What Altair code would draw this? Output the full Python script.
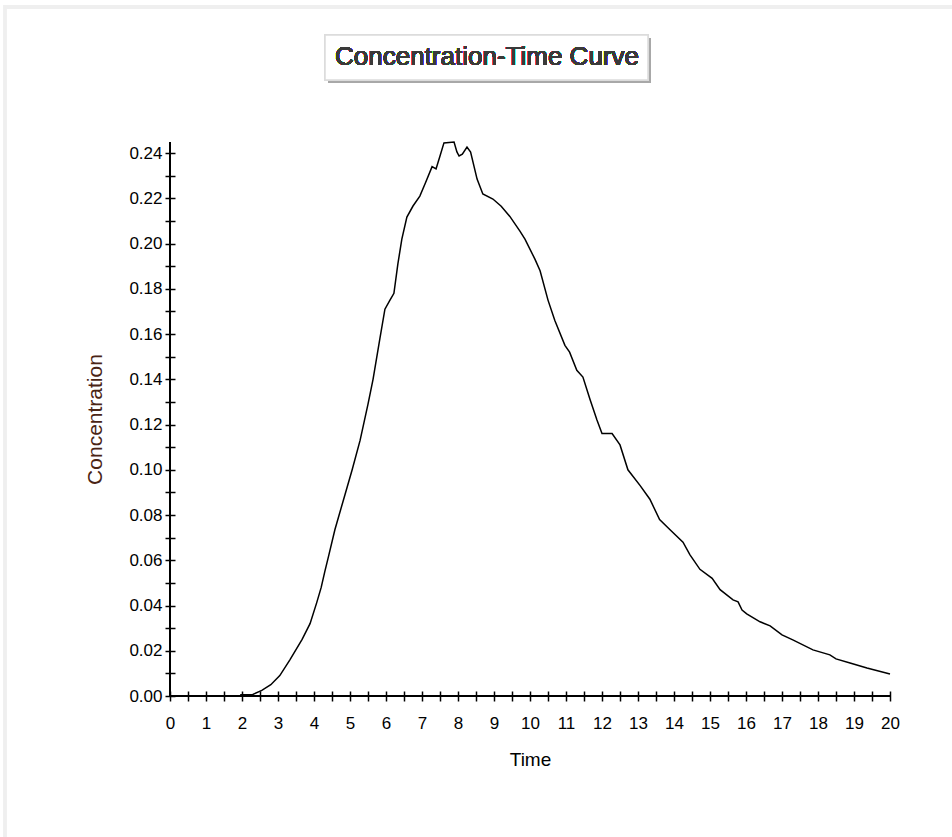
import altair as alt
import pandas as pd

# ---- data ----
time = [1.95, 2.3, 2.55, 2.8, 3.05, 3.33, 3.67, 3.89, 4.08, 4.2, 4.3, 4.4,
        4.58, 4.86, 5.06, 5.28, 5.5, 5.64, 5.83, 5.97, 6.11, 6.22, 6.33, 6.44,
        6.58, 6.75, 6.94, 7.1, 7.28, 7.39, 7.5, 7.61, 7.89, 7.97, 8.03, 8.12,
        8.25, 8.35, 8.53, 8.69, 8.97, 9.2, 9.44, 9.72, 9.86, 10.14, 10.28, 10.5,
        10.69, 10.97, 11.1, 11.3, 11.47, 11.67, 11.86, 12.0, 12.28, 12.5, 12.72,
        13.06, 13.33, 13.6, 13.89, 14.25, 14.44, 14.72, 15.06, 15.28, 15.64,
        15.78, 15.89, 16.02, 16.39, 16.67, 17.0, 17.3, 17.86, 18.33, 18.5,
        18.89, 19.36, 20.0]
concentration = [0.0005, 0.0007, 0.0025, 0.005, 0.009, 0.016, 0.025, 0.032,
                 0.0415, 0.048, 0.055, 0.0615, 0.0735, 0.089, 0.100, 0.113,
                 0.129, 0.140, 0.158, 0.171, 0.175, 0.178, 0.191, 0.202,
                 0.2117, 0.2166, 0.221, 0.227, 0.234, 0.233, 0.2387, 0.2445,
                 0.2449, 0.2405, 0.2387, 0.2395, 0.2427, 0.2405, 0.2285, 0.2219,
                 0.2197, 0.2165, 0.212, 0.2055, 0.202, 0.193, 0.188, 0.175,
                 0.166, 0.155, 0.152, 0.144, 0.141, 0.131, 0.122, 0.116, 0.116,
                 0.111, 0.100, 0.093, 0.087, 0.078, 0.0735, 0.068, 0.0625,
                 0.056, 0.052, 0.047, 0.0425, 0.0416, 0.038, 0.0363, 0.0328,
                 0.031, 0.027, 0.0248, 0.0204, 0.0182, 0.0164, 0.0146, 0.0124,
                 0.0097]

x_tick_values = [0, 0.5, 1, 1.5, 2, 2.5, 3, 3.5, 4, 4.5, 5, 5.5, 6, 6.5, 7,
                 7.5, 8, 8.5, 9, 9.5, 10, 10.5, 11, 11.5, 12, 12.5, 13, 13.5,
                 14, 14.5, 15, 15.5, 16, 16.5, 17, 17.5, 18, 18.5, 19, 19.5, 20]
y_tick_values = [0.00, 0.01, 0.02, 0.03, 0.04, 0.05, 0.06, 0.07, 0.08, 0.09,
                 0.10, 0.11, 0.12, 0.13, 0.14, 0.15, 0.16, 0.17, 0.18, 0.19,
                 0.20, 0.21, 0.22, 0.23, 0.24]
x_domain = [0, 20]
y_domain = [0, 0.2449]

title_text = "Concentration-Time Curve"
x_title = "Time"
y_title = "Concentration"

W, H = 720, 554
FONT = "Liberation Sans, Arial, sans-serif"

df = pd.DataFrame({"Time": time, "Concentration": concentration})

line = alt.Chart(df).mark_line(color="black", strokeWidth=1.5, clip=False).encode(
    x=alt.X("Time:Q",
            scale=alt.Scale(domain=x_domain, nice=False, zero=False),
            axis=alt.Axis(values=x_tick_values,
                          labelExpr="datum.value % 1 == 0 ? format(datum.value, 'd') : ''",
                          domain=False, grid=False, offset=-5,
                          tickSize=10, tickWidth=1.5, tickColor="black",
                          labelFont=FONT, labelFontSize=17, labelColor="black",
                          labelPadding=14, labelFlush=False, labelOverlap=False,
                          title=x_title, titleFont=FONT, titleFontSize=19,
                          titleFontWeight="normal", titleColor="black",
                          titleX=W / 2, titleY=68, titleBaseline="middle",
                          titleAlign="center")),
    y=alt.Y("Concentration:Q",
            scale=alt.Scale(domain=y_domain, nice=False, zero=True),
            axis=alt.Axis(values=y_tick_values,
                          labelExpr="round(datum.value * 100) % 2 == 0 ? format(datum.value, '.2f') : ''",
                          domain=False, grid=False, offset=-5,
                          tickSize=10, tickWidth=1.5, tickColor="black",
                          labelFont=FONT, labelFontSize=17, labelColor="black",
                          labelPadding=3, labelFlush=False, labelOverlap=False,
                          title=y_title, titleFont=FONT, titleFontSize=21,
                          titleFontWeight="normal", titleColor="#4a2414",
                          titleAngle=270, titleX=-80, titleY=H / 2,
                          titleBaseline="middle", titleAlign="center")),
)

# axis lines (domain) drawn at the plot edges
x_axis_line = alt.Chart(df).mark_rule(color="black", strokeWidth=1.6).encode(
    x=alt.value(0), x2=alt.value(W), y=alt.value(H))
y_axis_line = alt.Chart(df).mark_rule(color="black", strokeWidth=1.6).encode(
    x=alt.value(0), y=alt.value(0), y2=alt.value(H))

# title box with a drop shadow
box_shadow = alt.Chart(df).mark_rect(color="#a8a8a8", clip=False).encode(
    x=alt.value(158), x2=alt.value(481), y=alt.value(-104), y2=alt.value(-59))
box = alt.Chart(df).mark_rect(fill="white", stroke="#dcdcdc", strokeWidth=1.5,
                              clip=False).encode(
    x=alt.value(155), x2=alt.value(478), y=alt.value(-107), y2=alt.value(-62))
title = alt.Chart(df).mark_text(text=title_text, font=FONT, fontSize=26,
                                fontWeight="normal", color="#3a3a3a",
                                align="center", baseline="middle",
                                clip=False).encode(
    x=alt.value(317), y=alt.value(-85))

# light frame at top/left of the window
frame_top = alt.Chart(df).mark_rule(color="#efefef", strokeWidth=4, clip=False).encode(
    x=alt.value(-166), x2=alt.value(782), y=alt.value(-135))
frame_left = alt.Chart(df).mark_rule(color="#efefef", strokeWidth=3, clip=False).encode(
    x=alt.value(-165), y=alt.value(-137), y2=alt.value(695))

chart = alt.layer(
    frame_top, frame_left, box_shadow, box, title, line, x_axis_line, y_axis_line
).properties(
    width=W, height=H,
    autosize=alt.AutoSizeParams(type="none"),
    padding={"left": 170, "top": 142, "right": 62, "bottom": 141},
    background="white",
).configure_view(stroke=None)

chart.save("out.html", embed_options={"renderer": "svg", "actions": False})
